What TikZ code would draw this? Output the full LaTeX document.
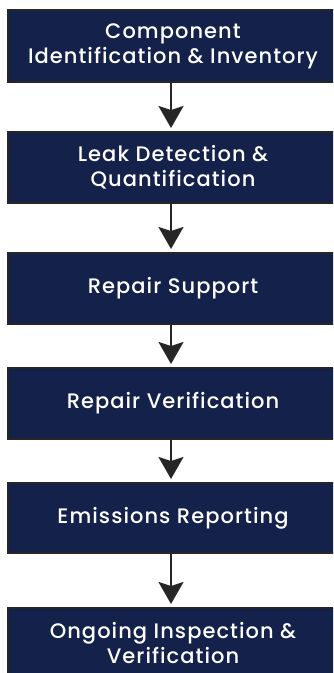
\documentclass[tikz,border=0pt]{standalone}
\usepackage{fontspec}
\setmainfont{Poppins}[UprightFont=* Medium, LetterSpace=5]
\usetikzlibrary{arrows.meta}
\definecolor{navy}{HTML}{14224B}
\definecolor{edge}{HTML}{262626}
\begin{document}
\begin{tikzpicture}[x=1pt,y=-1pt,
  stepbox/.style={draw=edge, line width=2pt, fill=navy, text=white,
    minimum width=330pt, align=center, inner sep=0pt,
    font=\fontsize{21}{25}\selectfont},
  flow/.style={draw=edge, line width=2pt,
    -{Stealth[length=22pt,width=25pt,inset=4pt]}, shorten >=3pt}]
\useasboundingbox (0,0) rectangle (333,673);
\clip (0,0) rectangle (333,673);
\fill[white] (0,0) rectangle (333,673);
% process steps
\node[stepbox, minimum height=72pt] (b1) at (173,46) {Component\\Identification \& Inventory};
\node[stepbox, minimum height=71pt] (b2) at (173,167.5) {Leak Detection \&\\Quantification};
\node[stepbox, minimum height=71pt] (b3) at (173,288.5) {Repair Support};
\node[stepbox, minimum height=71pt] (b4) at (173,403.5) {Repair Verification};
\node[stepbox, minimum height=70pt] (b5) at (173,518) {Emissions Reporting};
\node[stepbox, minimum height=70pt] (b6) at (173,643) {Ongoing Inspection \&\\Verification};
% connectors
\foreach \a/\b in {b1/b2,b2/b3,b3/b4,b4/b5,b5/b6}
  \draw[flow] ([xshift=-2pt]\a.south) -- ([xshift=-2pt]\b.north);
\end{tikzpicture}
\end{document}
